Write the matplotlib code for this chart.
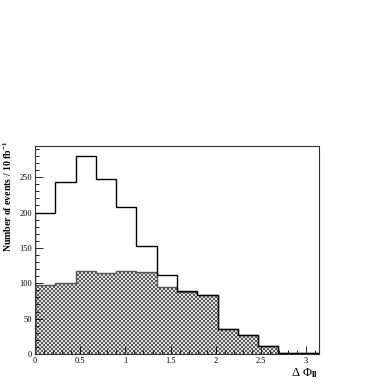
import numpy as np
import matplotlib
matplotlib.use("Agg")
import matplotlib.pyplot as plt
from matplotlib.ticker import MultipleLocator
from matplotlib.colors import ListedColormap

plt.rcParams['font.family'] = ['Liberation Serif', 'DejaVu Serif']
plt.rcParams['mathtext.fontset'] = 'custom'
plt.rcParams['mathtext.rm'] = 'Liberation Serif'
plt.rcParams['mathtext.it'] = 'Liberation Serif:italic'
plt.rcParams['mathtext.bf'] = 'Liberation Serif:bold'

n_bins = 14
x_min, x_max = 0.0, np.pi
y_max = 294
total_events = [200, 243, 280, 247, 208, 153, 111, 89, 83, 36, 27, 12, 1, 1]
background_events = [97, 100, 118, 115, 117, 116, 94, 88, 83, 36, 27, 12, 1, 1]

edges = np.linspace(x_min, x_max, n_bins + 1)

W = H = 382
ax_l, ax_b, ax_w, ax_h = 35, 28, 284, 208
fig = plt.figure(figsize=(W/100, H/100), dpi=100)
ax = fig.add_axes([ax_l/W, ax_b/H, ax_w/W, ax_h/H])

# fine checkerboard fill pattern (2x2 pixel cells), clipped to the background histogram
ny, nx = ax_h // 2, ax_w // 2
checker = (np.add.outer(np.arange(ny), np.arange(nx)) % 2).astype(float)
cmap = ListedColormap(['#5a5a5a', '#dedede'])
fill = ax.stairs(background_events, edges, fill=True, facecolor='none', linewidth=0)
im = ax.imshow(checker, extent=(x_min, x_max, 0, y_max), aspect='auto',
               interpolation='nearest', cmap=cmap, origin='lower', zorder=1)
im.set_clip_path(fill)

ax.stairs(background_events, edges, color='#555555', linewidth=1.0, zorder=2)
ax.stairs(total_events, edges, color='black', linewidth=1.0, zorder=3)

ax.set_xlim(x_min, x_max)
ax.set_ylim(0, y_max)
ax.xaxis.set_major_locator(MultipleLocator(0.5))
ax.xaxis.set_minor_locator(MultipleLocator(0.1))
ax.yaxis.set_major_locator(MultipleLocator(50))
ax.yaxis.set_minor_locator(MultipleLocator(10))
ax.tick_params(which='both', direction='in', top=False, right=False, labelsize=6, pad=2)
ax.tick_params(which='major', length=6, width=0.6)
ax.tick_params(which='minor', length=3, width=0.6)
ax.set_xticks([0, 0.5, 1, 1.5, 2, 2.5, 3])
ax.set_xticklabels(['0', '0.5', '1', '1.5', '2', '2.5', '3'])
for s in ax.spines.values():
    s.set_linewidth(0.8)
    s.set_color('#333333')
    s.set_zorder(4)

fig.text(8/W, 1-196/H, r'Number of events / 10 fb$^{\mathbf{-1}}$', rotation=90,
         ha='center', va='center', fontsize=7, fontweight='bold')
fig.text(318/W, 1-373/H, r'$\Delta\ \Phi_{\mathbf{ll}}$', ha='right', va='center', fontsize=9)

fig.savefig('out.png', dpi=100)
